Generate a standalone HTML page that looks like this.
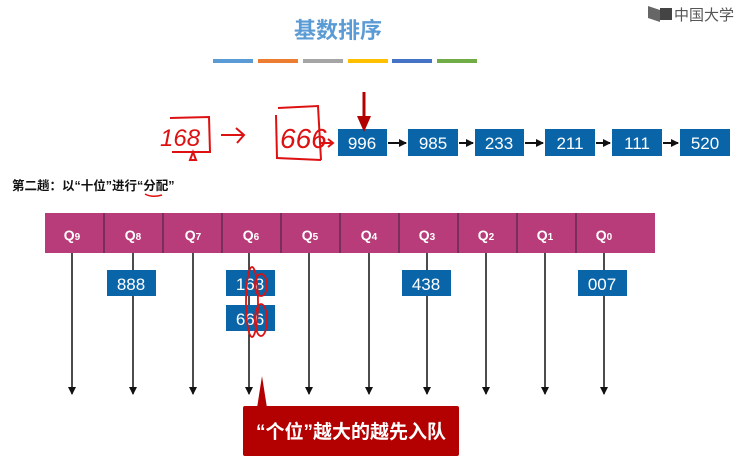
<!DOCTYPE html>
<html><head><meta charset="utf-8"><style>
html,body{margin:0;padding:0;background:#fff;width:743px;height:476px;overflow:hidden;font-family:"Liberation Sans","Noto Sans CJK SC",sans-serif}
</style></head><body>
<svg width="743" height="476" xmlns="http://www.w3.org/2000/svg" font-family="Liberation Sans, Noto Sans CJK SC, sans-serif">
<defs><marker id="a" markerWidth="8" markerHeight="8" refX="7" refY="4" orient="auto" markerUnits="userSpaceOnUse"><path d="M0,0 L8,4 L0,8z" fill="#111"/></marker></defs>
<text x="338" y="38" text-anchor="middle" font-size="22" font-weight="bold" fill="#5b9bd5">基数排序</text>
<g>
<rect x="213" y="59" width="40" height="4" fill="#5b9bd5"/>
<rect x="258" y="59" width="40" height="4" fill="#ed7d31"/>
<rect x="303" y="59" width="40" height="4" fill="#a5a5a5"/>
<rect x="348" y="59" width="40" height="4" fill="#ffc000"/>
<rect x="392" y="59" width="40" height="4" fill="#4472c4"/>
<rect x="437" y="59" width="40" height="4" fill="#70ad47"/>
</g>
<path d="M648,6 L660,10 L660,22 L648,18z" fill="#666"/><rect x="660" y="8" width="12" height="12" fill="#444"/>
<text x="674" y="20" font-size="15" fill="#555">中国大学</text>
<g fill="#0a64a8"><rect x="338" y="129" width="49" height="27"/><rect x="408" y="129" width="50" height="27"/><rect x="475" y="129" width="49" height="27"/><rect x="545" y="129" width="50" height="27"/><rect x="612" y="129" width="50" height="27"/><rect x="680" y="129" width="50" height="27"/></g>
<g fill="#fff" font-size="17" text-anchor="middle"><text x="362" y="149">996</text><text x="433" y="149">985</text><text x="499" y="149">233</text><text x="570" y="149">211</text><text x="637" y="149">111</text><text x="705" y="149">520</text></g>
<g stroke="#111" stroke-width="2" marker-end="url(#a)"><line x1="388" y1="143" x2="406" y2="143"/><line x1="459" y1="143" x2="473" y2="143"/><line x1="525" y1="143" x2="543" y2="143"/><line x1="596" y1="143" x2="610" y2="143"/><line x1="663" y1="143" x2="678" y2="143"/></g>
<line x1="364" y1="92" x2="364" y2="118" stroke="#b30000" stroke-width="3"/><path d="M357,116 L371,116 L364,132z" fill="#b30000"/>
<g stroke="#d11" stroke-width="2" fill="none">
<path d="M170,118 L209,117 L210,152 L172,152"/><path d="M193,152 L190,160 L196,160z"/>
<path d="M221,135 L243,135 M236,128 L244,135 L237,143"/>
<path d="M278,108 L318,106 L321,160 M276,115 L277,158 L321,160"/>
<path d="M319,143 L332,143 M328,139 L333,143 L328,147"/>
</g>
<text x="160" y="146" font-size="24" fill="#d11" font-style="italic">168</text>
<text x="280" y="148" font-size="28" fill="#d11" font-style="italic">666</text>
<text x="12" y="190" font-size="12.5" font-weight="bold" fill="#111">第二趟：以“十位”进行“分配”</text>
<path d="M145,194 Q152,198 162,195" stroke="#d11" stroke-width="1.5" fill="none"/>
<rect x="45" y="213" width="610" height="40" fill="#b83c7a"/>
<g stroke="#3a2040" stroke-width="1">
<line x1="104" y1="213" x2="104" y2="253"/><line x1="163" y1="213" x2="163" y2="253"/><line x1="222" y1="213" x2="222" y2="253"/><line x1="281" y1="213" x2="281" y2="253"/><line x1="340" y1="213" x2="340" y2="253"/><line x1="399" y1="213" x2="399" y2="253"/><line x1="458" y1="213" x2="458" y2="253"/><line x1="517" y1="213" x2="517" y2="253"/><line x1="576" y1="213" x2="576" y2="253"/></g>
<g fill="#fff" font-size="14" font-weight="bold" text-anchor="middle">
<text x="72" y="240">Q<tspan font-size="10">9</tspan></text><text x="133" y="240">Q<tspan font-size="10">8</tspan></text><text x="193" y="240">Q<tspan font-size="10">7</tspan></text><text x="251" y="240">Q<tspan font-size="10">6</tspan></text><text x="310" y="240">Q<tspan font-size="10">5</tspan></text><text x="369" y="240">Q<tspan font-size="10">4</tspan></text><text x="427" y="240">Q<tspan font-size="10">3</tspan></text><text x="486" y="240">Q<tspan font-size="10">2</tspan></text><text x="545" y="240">Q<tspan font-size="10">1</tspan></text><text x="604" y="240">Q<tspan font-size="10">0</tspan></text></g>
<g stroke="#111" stroke-width="1.5" marker-end="url(#a)">
<line x1="72" y1="253" x2="72" y2="394"/><line x1="133" y1="253" x2="133" y2="394"/><line x1="193" y1="253" x2="193" y2="394"/><line x1="249" y1="253" x2="249" y2="394"/><line x1="309" y1="253" x2="309" y2="394"/><line x1="369" y1="253" x2="369" y2="394"/><line x1="427" y1="253" x2="427" y2="394"/><line x1="486" y1="253" x2="486" y2="394"/><line x1="545" y1="253" x2="545" y2="394"/><line x1="604" y1="253" x2="604" y2="394"/></g>
<g fill="#0a64a8"><rect x="107" y="270" width="49" height="26"/><rect x="226" y="270" width="49" height="26"/><rect x="226" y="305" width="49" height="26"/><rect x="402" y="270" width="49" height="26"/><rect x="578" y="270" width="49" height="26"/></g>
<g fill="#fff" font-size="17" text-anchor="middle"><text x="131" y="290">888</text><text x="250" y="290">168</text><text x="250" y="325">666</text><text x="426" y="290">438</text><text x="602" y="290">007</text></g>
<g stroke="#d11" stroke-width="1.8" fill="none"><ellipse cx="252" cy="302" rx="6" ry="35"/><ellipse cx="261" cy="285" rx="6" ry="11"/><ellipse cx="261" cy="320" rx="6" ry="16"/></g>
<path d="M262,376 L267,408 L257,408z" fill="#b30000"/>
<rect x="243" y="406" width="216" height="50" rx="2" fill="#b30000"/>
<text x="351" y="438" text-anchor="middle" fill="#fff" font-size="19" font-weight="bold">“个位”越大的越先入队</text>
</svg>
</body></html>
